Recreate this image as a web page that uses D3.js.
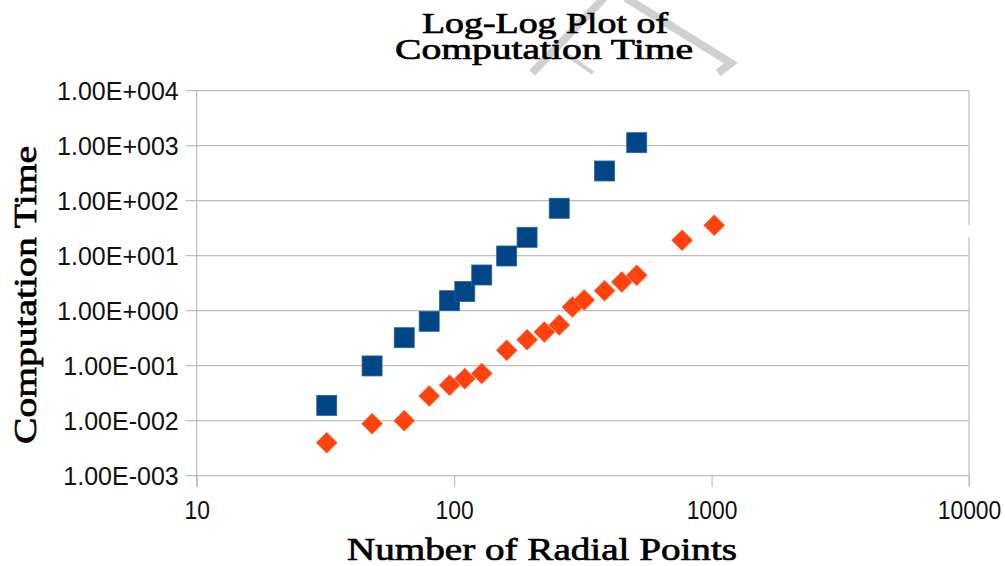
<!DOCTYPE html>
<html>
<head>
<meta charset="utf-8">
<script src="https://cdn.jsdelivr.net/npm/d3@7"></script>
<style>
  html, body { margin: 0; padding: 0; background: #fff; }
  svg { display: block; }
</style>
</head>
<body>
<svg id="chart" width="1005" height="566"></svg>
<script>
// ---- data ----
const seriesAX = [32, 48, 64, 80, 96, 110, 128, 160, 192, 256, 384, 512];
const seriesAY = [0.019, 0.099, 0.323, 0.641, 1.52, 2.23, 4.46, 9.88, 21.6, 72.8, 347, 1134];
const seriesBX = [32, 48, 64, 80, 96, 110, 128, 160, 192, 224, 256, 288, 320, 384, 448, 512, 768, 1024];
const seriesBY = [0.00398, 0.0088, 0.0100, 0.0281, 0.044, 0.058, 0.072, 0.19, 0.297, 0.41, 0.55, 1.17, 1.57, 2.31, 3.33, 4.40, 19.1, 35.7];
const xTickValues = [10, 100, 1000, 10000];
const xTickLabels = ["10", "100", "1000", "10000"];
const yTickValues = [1e-3, 1e-2, 1e-1, 1e0, 1e1, 1e2, 1e3, 1e4];
const yTickLabels = ["1.00E-003", "1.00E-002", "1.00E-001", "1.00E+000", "1.00E+001", "1.00E+002", "1.00E+003", "1.00E+004"];
const titleLines = ["Log-Log Plot of", "Computation Time"];
const xTitle = "Number of Radial Points";
const yTitle = "Computation Time";

// ---- layout ----
const plot = { left: 196.7, right: 969, top: 90.7, bottom: 475.7 };
const gridColor = "#bdbdbd";
const blue = "#004586", orange = "#ff420e";
const serif = "'Liberation Serif', 'Times New Roman', serif";
const sans = "'Liberation Sans', Arial, sans-serif";

const svg = d3.select("#chart");
const x = d3.scaleLog().domain([10, 10000]).range([plot.left, plot.right]);
const y = d3.scaleLog().domain([1e-3, 1e4]).range([plot.bottom, plot.top]);

// watermark fragments (light grey strokes above plot)
const wm = svg.append("g").attr("stroke", "#d0d0d0").attr("fill", "none").attr("stroke-linecap", "butt");
wm.append("line").attr("x1", 532).attr("y1", 73).attr("x2", 604).attr("y2", -2).attr("stroke-width", 8);
wm.append("polyline").attr("points", "626,-2 731,63 718,73").attr("stroke-width", 8);
wm.append("line").attr("x1", 566).attr("y1", 54).attr("x2", 593).attr("y2", 73).attr("stroke-width", 4);

// horizontal grid (extends left as tick)
svg.append("g").selectAll("line").data(yTickValues).join("line")
  .attr("x1", plot.left - 11).attr("x2", plot.right)
  .attr("y1", d => y(d)).attr("y2", d => y(d))
  .attr("stroke", gridColor).attr("stroke-width", 1.2);

// left axis line, right border (with small gap), x ticks
svg.append("line").attr("x1", plot.left).attr("x2", plot.left)
  .attr("y1", plot.top).attr("y2", plot.bottom + 11)
  .attr("stroke", gridColor).attr("stroke-width", 1.2);
svg.append("line").attr("x1", plot.right).attr("x2", plot.right)
  .attr("y1", plot.top).attr("y2", 225)
  .attr("stroke", gridColor).attr("stroke-width", 1.2);
svg.append("line").attr("x1", plot.right).attr("x2", plot.right)
  .attr("y1", 237).attr("y2", plot.bottom + 11)
  .attr("stroke", gridColor).attr("stroke-width", 1.2);

// axes via d3 (labels, x ticks)
const yAxis = d3.axisLeft(y).tickValues(yTickValues)
  .tickFormat((d, i) => yTickLabels[i]).tickSize(0).tickPadding(0);
const gy = svg.append("g").attr("transform", `translate(${plot.left - 18},0)`).call(yAxis);
gy.select(".domain").remove();
gy.selectAll("text").attr("font-family", sans).attr("font-size", 25).attr("fill", "#111")
  .attr("dy", "0.36em");

const xAxis = d3.axisBottom(x).tickValues(xTickValues)
  .tickFormat((d, i) => xTickLabels[i]).tickSize(11).tickPadding(0);
const gx = svg.append("g").attr("transform", `translate(0,${plot.bottom})`).call(xAxis);
gx.select(".domain").remove();
gx.selectAll(".tick line").attr("stroke", gridColor).attr("stroke-width", 1.2);
gx.selectAll("text").attr("font-family", sans).attr("font-size", 26).attr("fill", "#111")
  .attr("dy", 0).attr("y", 43)
  .each(function () {
    const w = this.getComputedTextLength();
    d3.select(this).attr("textLength", w * 0.88).attr("lengthAdjust", "spacingAndGlyphs");
  });

// series A: blue squares
const sq = 20;
svg.append("g").selectAll("rect").data(seriesAX.map((v, i) => [v, seriesAY[i]])).join("rect")
  .attr("x", d => x(d[0]) - sq / 2).attr("y", d => y(d[1]) - sq / 2)
  .attr("width", sq).attr("height", sq)
  .attr("fill", blue).attr("stroke", "#2a62a0").attr("stroke-width", 0.8);

// series B: orange diamonds
const dh = 10.5;
svg.append("g").selectAll("path").data(seriesBX.map((v, i) => [v, seriesBY[i]])).join("path")
  .attr("d", d => {
    const cx = x(d[0]), cy = y(d[1]);
    return `M${cx},${cy - dh}L${cx + dh},${cy}L${cx},${cy + dh}L${cx - dh},${cy}Z`;
  })
  .attr("fill", orange).attr("stroke", "#ff6a3d").attr("stroke-width", 0.6);

// serif text helper: regular weight thickened slightly, fitted width
function serifText(x0, y0, size, str, width, transform) {
  const t = svg.append("text").attr("text-anchor", "middle")
    .attr("font-family", serif).attr("font-size", size)
    .attr("fill", "#000").attr("stroke", "#000").attr("stroke-width", 0.7)
    .attr("textLength", width).attr("lengthAdjust", "spacingAndGlyphs")
    .text(str);
  if (transform) t.attr("transform", transform);
  else t.attr("x", x0).attr("y", y0);
  return t;
}

serifText(545, 33, 30, titleLines[0], 246);
serifText(544, 59, 30, titleLines[1], 298);
serifText(542, 560, 32, xTitle, 390);
serifText(0, 0, 31, yTitle, 298, "translate(36,295) rotate(-90)");
</script>
</body>
</html>
